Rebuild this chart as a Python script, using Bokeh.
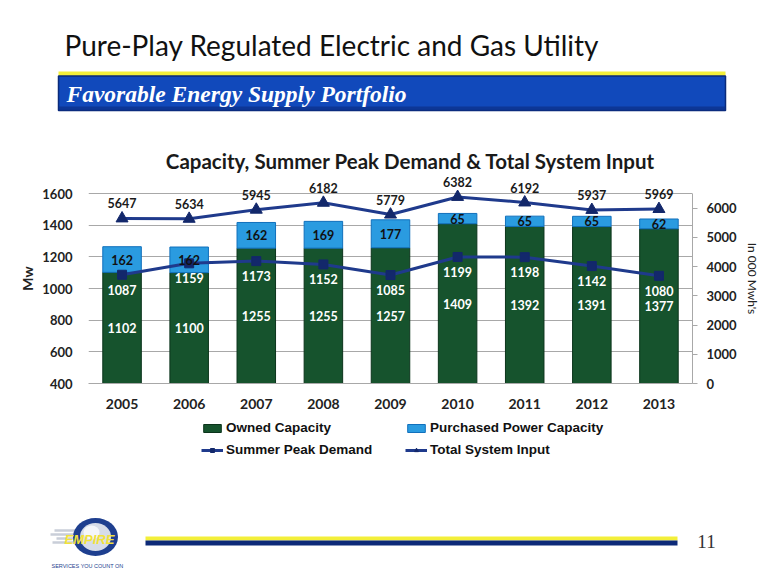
from bokeh.plotting import figure
from bokeh.models import (Range1d, FactorRange, LinearAxis, FixedTicker, ColumnDataSource,
                          LabelSet, Legend, LegendItem)
from bokeh.layouts import column
from bokeh.core.properties import value
from bokeh.embed import file_html
from bokeh.resources import INLINE

# ---------------- data ----------------
years = ["2005", "2006", "2007", "2008", "2009", "2010", "2011", "2012", "2013"]
owned_capacity = [1102, 1100, 1255, 1255, 1257, 1409, 1392, 1391, 1377]
purchased_capacity = [162, 162, 162, 169, 177, 65, 65, 65, 62]
summer_peak_demand = [1087, 1159, 1173, 1152, 1085, 1199, 1198, 1142, 1080]
total_system_input = [5647, 5634, 5945, 6182, 5779, 6382, 6192, 5937, 5969]
left_ticks = [400, 600, 800, 1000, 1200, 1400, 1600]
right_ticks = [0, 1000, 2000, 3000, 4000, 5000, 6000]
left_min, left_max = 400, 1600
right_min, right_max = 0, 6500

W = 772
NAVY = "#1f3a8c"
MARK = "#13286b"
GREEN = "#16532d"
GREEN_EDGE = "#0b341b"
BLUE = "#2a9be0"
BLUE_EDGE = "#1170bc"

# ---------------- header ----------------
HH = 173
hdr = figure(width=W, height=HH, x_range=Range1d(0, W), y_range=Range1d(HH, 0),
             min_border=0, x_axis_type=None, y_axis_type=None, frame_align=False,
             output_backend="svg", toolbar_location=None)
hdr.grid.visible = False
hdr.outline_line_color = None
hdr.text(x=[64], y=[44], text=["Pure-Play Regulated Electric and Gas Utility"],
         text_font=value("Lato"), text_font_size="28px", text_color="#111111",
         text_baseline="middle", text_align="left")
hdr.quad(left=[58], right=[725], top=[71], bottom=[75.5], fill_color="#f3ef3a", line_color=None)
hdr.quad(left=[58], right=[725], top=[75.5], bottom=[110], fill_color="#1149bb",
         line_color="#0a2a7a", line_width=1.5)
hdr.quad(left=[58], right=[725], top=[106], bottom=[110], fill_color="#0b2f86", line_color=None,
         fill_alpha=0.7)
hdr.text(x=[66], y=[93], text=["Favorable Energy Supply Portfolio"],
         text_font=value("Liberation Serif"), text_font_style="bold italic",
         text_font_size="23.5px", text_color="white", text_baseline="middle", text_align="left")
hdr.text(x=[410], y=[160], text=["Capacity, Summer Peak Demand & Total System Input"],
         text_font=value("Lato"), text_font_style="bold", text_font_size="20.5px",
         text_color="#1a1a1a", text_baseline="middle", text_align="center")

# ---------------- chart ----------------
# plot area 190 px tall for 400..1600 / 0..6500; frame extended 20 px upward for labels
ext_px = 20
plot_px = 190
left_top = left_max + ext_px * (left_max - left_min) / plot_px
right_top = right_max + ext_px * (right_max - right_min) / plot_px

own_mid = [(left_min + o) / 2 for o in owned_capacity]
pur_top = [o + p for o, p in zip(owned_capacity, purchased_capacity)]
pur_mid = [o + p / 2 for o, p in zip(owned_capacity, purchased_capacity)]
src = ColumnDataSource(dict(
    year=years, owned=owned_capacity, purch=purchased_capacity, pur_top=pur_top,
    own_mid=own_mid, pur_mid=pur_mid, spd=summer_peak_demand, tsi=total_system_input,
    own_txt=[str(v) for v in owned_capacity], pur_txt=[str(v) for v in purchased_capacity],
    spd_txt=[str(v) for v in summer_peak_demand], tsi_txt=[str(v) for v in total_system_input],
    base=[left_min] * len(years)))

p = figure(x_range=FactorRange(*years), y_range=Range1d(left_min, left_top),
           frame_width=604, frame_height=plot_px + ext_px,
           min_border_left=88, min_border_right=80, min_border_top=0, min_border_bottom=35,
           frame_align=False, output_backend="svg", toolbar_location=None)
p.outline_line_color = None
p.extra_y_ranges = {"right": Range1d(right_min, right_top)}

p.xgrid.grid_line_color = None
p.ygrid.grid_line_color = "#a8a8a8"
p.ygrid.grid_line_width = 1
p.yaxis.ticker = FixedTicker(ticks=left_ticks)
p.ygrid.ticker = FixedTicker(ticks=left_ticks)

ya = p.yaxis[0]
ya.axis_line_color = None
ya.major_tick_line_color = None
ya.minor_tick_line_color = None
ya.major_label_standoff = 10
ya.major_label_text_font = "Lato"
ya.major_label_text_font_style = "bold"
ya.major_label_text_font_size = "13px"
ya.major_label_text_color = "#222222"
ya.axis_label = "Mw"
ya.axis_label_text_font = "Lato"
ya.axis_label_text_font_style = "bold"
ya.axis_label_text_font_size = "14px"
ya.axis_label_text_color = "#222222"
ya.axis_label_standoff = 3

ra = LinearAxis(y_range_name="right", ticker=FixedTicker(ticks=right_ticks),
                bounds=(right_min, right_max))
ra.axis_line_color = "#a8a8a8"
ra.major_tick_line_color = "#a8a8a8"
ra.major_tick_out = 5
ra.major_tick_in = 0
ra.minor_tick_line_color = None
ra.major_label_standoff = 9
ra.major_label_text_font = "Lato"
ra.major_label_text_font_style = "bold"
ra.major_label_text_font_size = "13px"
ra.major_label_text_color = "#222222"
ra.axis_label = "In 000 Mwh's"
ra.axis_label_text_font = "Lato"
ra.axis_label_text_font_style = "normal"
ra.axis_label_text_font_size = "12px"
ra.axis_label_text_color = "#222222"
ra.axis_label_standoff = 5
p.add_layout(ra, "right")

xa = p.xaxis[0]
xa.axis_line_color = "#a8a8a8"
xa.major_tick_line_color = None
xa.minor_tick_line_color = None
xa.major_label_standoff = 9
xa.major_label_text_font = "Lato"
xa.major_label_text_font_style = "bold"
xa.major_label_text_font_size = "14px"
xa.major_label_text_color = "#222222"

bw = 0.574
bar_own = dict(fill_color=GREEN, line_color=GREEN_EDGE, line_width=1)
bar_pur = dict(fill_color=BLUE, line_color=BLUE_EDGE, line_width=1)
line_sty = dict(line_color=NAVY, line_width=3)
sq_sty = dict(marker="square", size=9, fill_color=MARK, line_color=MARK)
tri_sty = dict(marker="triangle", size=12, fill_color=MARK, line_color=MARK)

p.vbar(x="year", bottom="base", top="owned", width=bw, source=src, **bar_own)
p.vbar(x="year", bottom="owned", top="pur_top", width=bw, source=src, **bar_pur)
p.line(x="year", y="spd", source=src, **line_sty)
p.scatter(x="year", y="spd", source=src, **sq_sty)
p.line(x="year", y="tsi", source=src, y_range_name="right", **line_sty)
p.scatter(x="year", y="tsi", source=src, y_range_name="right", **tri_sty)

lab_font = dict(text_font=value("Lato"), text_font_style="bold", text_font_size="12.5px",
                text_align="center", text_baseline="middle")
p.add_layout(LabelSet(x="year", y="own_mid", text="own_txt", source=src,
                      text_color="white", **lab_font))
p.add_layout(LabelSet(x="year", y="pur_mid", text="pur_txt", source=src,
                      text_color="#111111", **lab_font))
p.add_layout(LabelSet(x="year", y="spd", text="spd_txt", source=src, y_offset=-15,
                      text_color="white", **lab_font))
p.add_layout(LabelSet(x="year", y="tsi", text="tsi_txt", source=src, y_range_name="right",
                      y_offset=15, text_color="#1a1a1a", **lab_font))

# ---------------- footer (legend + slide footer) ----------------
FH = 585 - 418
ftr = figure(width=W, height=FH, x_range=Range1d(0, W), y_range=Range1d(FH, 0),
             min_border=0, x_axis_type=None, y_axis_type=None, frame_align=False,
             output_backend="svg", toolbar_location=None)
ftr.grid.visible = False
ftr.outline_line_color = None

# legend key renderers (same styles as the chart series; one empty NaN point each)
nan = float("nan")
k_own = ftr.vbar(x=[nan], top=[nan], width=1, **bar_own)
k_pur = ftr.vbar(x=[nan], top=[nan], width=1, **bar_pur)
k_spd_l = ftr.line(x=[nan], y=[nan], **line_sty)
k_spd_m = ftr.scatter(x=[nan], y=[nan], **sq_sty)
k_tsi_l = ftr.line(x=[nan], y=[nan], **line_sty)
k_tsi_m = ftr.scatter(x=[nan], y=[nan], **tri_sty)
legend = Legend(items=[
    LegendItem(label="Owned Capacity", renderers=[k_own]),
    LegendItem(label="Summer Peak Demand", renderers=[k_spd_l, k_spd_m]),
    LegendItem(label="Purchased Power Capacity", renderers=[k_pur]),
    LegendItem(label="Total System Input", renderers=[k_tsi_l, k_tsi_m]),
], location=(201, FH - 39), ncols=2, orientation="vertical")
legend.border_line_color = None
legend.background_fill_color = None
legend.background_fill_alpha = 0
legend.padding = 0
legend.margin = 0
legend.spacing = 7
legend.glyph_width = 22
legend.glyph_height = 10
legend.label_height = 14
legend.label_width = 172
legend.label_standoff = 3
legend.label_text_font = "Liberation Sans"
legend.label_text_font_style = "bold"
legend.label_text_font_size = "13.5px"
legend.label_text_color = "#111111"
ftr.add_layout(legend, "center")

ftr.quad(left=[145], right=[677], top=[118], bottom=[122], fill_color="#f3ef3a", line_color=None)
ftr.quad(left=[145], right=[677], top=[122], bottom=[127], fill_color="#0d2a78", line_color=None)
ftr.text(x=[706], y=[123], text=["11"], text_font=value("Liberation Serif"),
         text_font_size="19px", text_color="#333333", text_align="center", text_baseline="middle")
# logo
ftr.segment(x0=[54, 50, 56, 52], y0=[112, 116, 120, 124], x1=[76, 76, 76, 76],
            y1=[112, 116, 120, 124], line_color="#c9ced8", line_width=2.5)
ftr.ellipse(x=[95], y=[118.5], width=45, height=38, fill_color="#1e3f8f", line_color=None)
ftr.ellipse(x=[95], y=[118.5], width=31, height=28, fill_color="#d6dce8", line_color=None)
ftr.ellipse(x=[91], y=[114], width=16, height=14, fill_color="#f4f6fa", line_color=None)
ftr.text(x=[89], y=[121], text=["EMPIRE"], text_font=value("Liberation Sans"),
         text_font_style="bold italic", text_font_size="13px", text_color="#f2e23a",
         text_align="center", text_baseline="middle")
ftr.text(x=[87], y=[147], text=["SERVICES YOU COUNT ON"], text_font=value("Liberation Sans"),
         text_font_size="5.5px", text_color="#1e3f8f", text_align="center", text_baseline="middle")

layout = column(hdr, p, ftr, spacing=0)
open("out.html", "w").write(file_html(layout, INLINE))
